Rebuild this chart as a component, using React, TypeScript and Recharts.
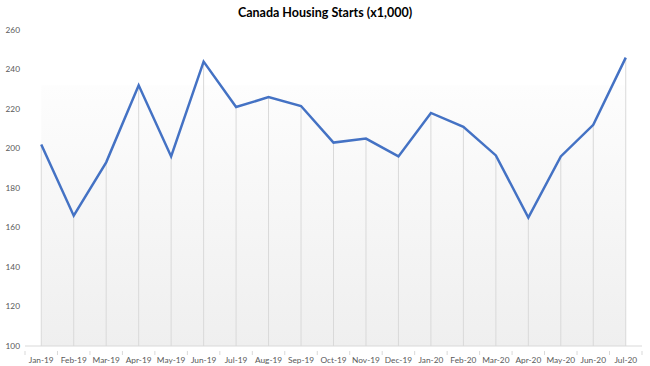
import React from "react";
import { LineChart, Line, XAxis, YAxis, ReferenceLine, ReferenceArea } from "recharts";

const months = ["Jan-19","Feb-19","Mar-19","Apr-19","May-19","Jun-19","Jul-19","Aug-19","Sep-19","Oct-19","Nov-19","Dec-19","Jan-20","Feb-20","Mar-20","Apr-20","May-20","Jun-20","Jul-20"];
const starts = [202, 166, 193, 232, 196, 244, 221, 226, 221.5, 203, 205, 196, 218, 211, 196.5, 165, 196, 212, 246];
const yTicks = [100, 120, 140, 160, 180, 200, 220, 240, 260];

const data = months.map((m, i) => ({ month: m, value: starts[i] }));

const FONT = "Lato, 'Open Sans', sans-serif";
const HALF = 16.25;

const XTick = (props: any) => {
  const { x, y, payload, index } = props;
  const isLast = index === months.length - 1;
  return (
    <g>
      <line x1={x - HALF} y1={y - 3} x2={x - HALF} y2={y + 1} stroke="#d9d9d9" />
      {isLast && <line x1={x + HALF} y1={y - 3} x2={x + HALF} y2={y + 1} stroke="#d9d9d9" />}
      <text x={x} y={y + 9} textAnchor="middle" fontSize={8.3} fill="#595959" fontFamily={FONT}>
        {payload.value}
      </text>
    </g>
  );
};

export default function App() {
  return (
    <div style={{ position: "absolute", left: 0, top: 0, width: 650, height: 366, background: "#fff" }}>
      <div style={{ position: "absolute", left: 0, top: 5, width: 650, textAlign: "center", fontFamily: FONT, fontWeight: 700, fontSize: 12.5, color: "#000" }}>
        Canada Housing Starts (x1,000)
      </div>
      <LineChart width={650} height={366} data={data} margin={{ top: 30, right: 8, bottom: 0, left: 0 }}>
        <defs>
          <linearGradient id="bg" x1="0" y1="0" x2="0" y2="1">
            <stop offset="0%" stopColor="#fdfdfd" />
            <stop offset="100%" stopColor="#efefef" />
          </linearGradient>
        </defs>
        <ReferenceArea y1={100} y2={232} fill="url(#bg)" fillOpacity={1} stroke="none" ifOverflow="extendDomain" />
        {months.map((m, i) => (
          <ReferenceLine
            key={m}
            segment={[{ x: m, y: 100 }, { x: m, y: starts[i] }]}
            stroke="#d9d9d9"
            strokeWidth={1}
          />
        ))}
        <XAxis
          dataKey="month"
          height={20}
          interval={0}
          padding={{ left: HALF, right: HALF }}
          axisLine={{ stroke: "#d9d9d9" }}
          tickLine={false}
          tick={<XTick />}
        />
        <YAxis
          domain={[100, 260]}
          ticks={yTicks}
          width={25}
          axisLine={false}
          tickLine={false}
          tickSize={0}
          tickMargin={5}
          tick={{ fontSize: 8.3, fill: "#595959", fontFamily: FONT }}
        />
        <Line type="linear" dataKey="value" stroke="#4472C4" strokeWidth={2.5} dot={false} isAnimationActive={false} />
      </LineChart>
    </div>
  );
}
